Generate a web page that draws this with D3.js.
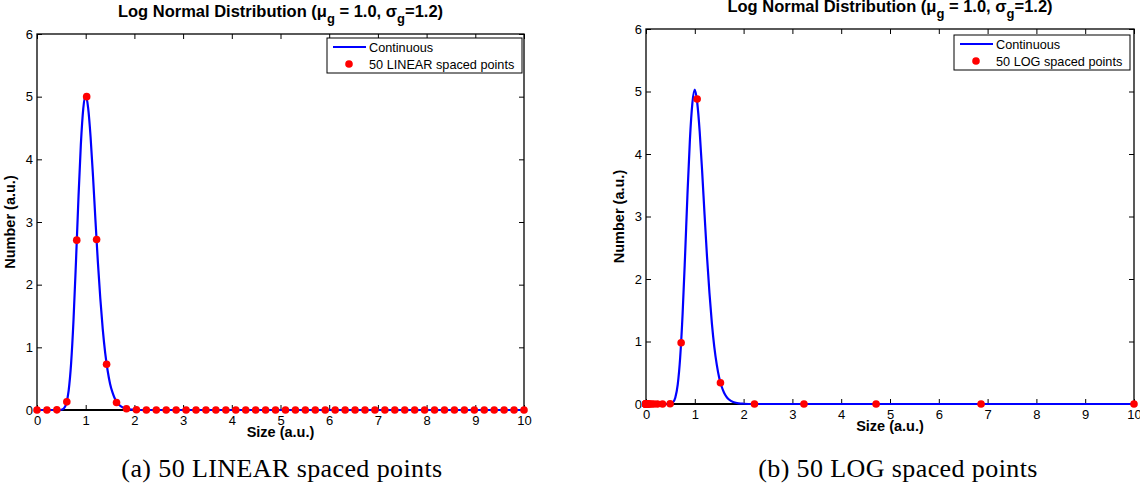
<!DOCTYPE html>
<html>
<head>
<meta charset="utf-8">
<script src="https://cdn.jsdelivr.net/npm/d3@7"></script>
<style>
  html, body { margin: 0; padding: 0; background: #fff; }
  svg { display: block; }
</style>
</head>
<body>
<svg id="chart" width="1140" height="493" font-family="Liberation Sans, Arial, sans-serif"></svg>
<script>
// ---------------- data ----------------
const xTicks = [0, 1, 2, 3, 4, 5, 6, 7, 8, 9, 10];
const yTicks = [0, 1, 2, 3, 4, 5, 6];

// continuous curve
const curveX = [0, 0.3, 0.4, 0.45, 0.5, 0.55, 0.6, 0.65, 0.7, 0.75, 0.8, 0.85, 0.9, 0.95, 1.0,
                1.05, 1.1, 1.15, 1.2, 1.25, 1.3, 1.35, 1.4, 1.45, 1.5, 1.55, 1.6, 1.65, 1.7,
                1.8, 1.9, 2.0, 2.2, 10];
const curveY = [0, 0, 0, 0.0003, 0.004, 0.023, 0.10, 0.31, 0.74, 1.44, 2.36, 3.36, 4.23, 4.81, 5.03,
                4.82, 4.36, 3.73, 3.03, 2.36, 1.78, 1.29, 0.91, 0.63, 0.42, 0.28, 0.18, 0.115, 0.072,
                0.028, 0.010, 0.004, 0, 0];

// 50 linearly spaced points
const linX = [0, 0.204, 0.408, 0.612, 0.816, 1.020, 1.224, 1.429, 1.633, 1.837,
              2.041, 2.245, 2.449, 2.653, 2.857, 3.061, 3.265, 3.469, 3.673, 3.878,
              4.082, 4.286, 4.490, 4.694, 4.898, 5.102, 5.306, 5.510, 5.714, 5.918,
              6.122, 6.327, 6.531, 6.735, 6.939, 7.143, 7.347, 7.551, 7.755, 7.959,
              8.163, 8.367, 8.571, 8.776, 8.980, 9.184, 9.388, 9.592, 9.796, 10];
const linY = [0, 0, 0.002, 0.13, 2.71, 5.00, 2.72, 0.73, 0.12, 0.02,
              0.003, 0, 0, 0, 0, 0, 0, 0, 0, 0,
              0, 0, 0, 0, 0, 0, 0, 0, 0, 0,
              0, 0, 0, 0, 0, 0, 0, 0, 0, 0,
              0, 0, 0, 0, 0, 0, 0, 0, 0, 0];

// 50 log spaced points
const logX = [1e-7, 1.46e-7, 2.12e-7, 3.09e-7, 4.50e-7, 6.55e-7, 9.54e-7, 1.39e-6, 2.02e-6, 2.95e-6,
              4.29e-6, 6.25e-6, 9.10e-6, 1.33e-5, 1.93e-5, 2.81e-5, 4.09e-5, 5.96e-5, 8.69e-5, 1.26e-4,
              1.84e-4, 2.68e-4, 3.91e-4, 5.69e-4, 8.29e-4, 1.21e-3, 1.76e-3, 2.56e-3, 3.73e-3, 5.43e-3,
              7.91e-3, 0.0115, 0.0168, 0.0244, 0.0356, 0.0518, 0.0754, 0.1099, 0.160, 0.233,
              0.339, 0.494, 0.720, 1.048, 1.526, 2.223, 3.237, 4.715, 6.866, 10];
const logY = [0, 0, 0, 0, 0, 0, 0, 0, 0, 0,
              0, 0, 0, 0, 0, 0, 0, 0, 0, 0,
              0, 0, 0, 0, 0, 0, 0, 0, 0, 0,
              0, 0, 0, 0, 0, 0, 0, 0, 0, 0,
              0, 0.004, 0.98, 4.88, 0.34, 0.0004, 0, 0, 0, 0];

const legendLabels = ["Continuous", "50 LINEAR spaced points", "50 LOG spaced points"];
const captions = ["(a) 50 LINEAR spaced points", "(b) 50 LOG spaced points"];

// ---------------- drawing ----------------
const svg = d3.select("#chart");
const SANS = "Liberation Sans, Arial, sans-serif";
const SERIF = "Liberation Serif, DejaVu Serif, serif";

function drawPanel(cfg) {
  const g = svg.append("g");
  const x = d3.scaleLinear().domain([0, 10]).range([cfg.left, cfg.right]);
  const y = d3.scaleLinear().domain([0, 6]).range([cfg.bottom, cfg.top]);
  const tickLen = 5;
  const styleText = sel => sel.selectAll("text")
    .style("font-family", SANS).style("font-size", "13px").attr("fill", "#000");

  // inward ticks on all four sides
  g.append("g").attr("transform", `translate(0,${cfg.bottom})`)
    .call(d3.axisBottom(x).tickValues(xTicks).tickSize(-tickLen).tickPadding(6).tickFormat(d3.format("d")))
    .call(a => a.select(".domain").remove())
    .call(a => a.selectAll("line").attr("stroke", "#000"))
    .call(styleText);
  g.append("g").attr("transform", `translate(0,${cfg.top})`)
    .call(d3.axisTop(x).tickValues(xTicks).tickSize(-tickLen).tickFormat(""))
    .call(a => a.select(".domain").remove())
    .call(a => a.selectAll("line").attr("stroke", "#000"));
  g.append("g").attr("transform", `translate(${cfg.left},0)`)
    .call(d3.axisLeft(y).tickValues(yTicks).tickSize(-tickLen).tickPadding(4).tickFormat(d3.format("d")))
    .call(a => a.select(".domain").remove())
    .call(a => a.selectAll("line").attr("stroke", "#000"))
    .call(styleText);
  g.append("g").attr("transform", `translate(${cfg.right},0)`)
    .call(d3.axisRight(y).tickValues(yTicks).tickSize(-tickLen).tickFormat(""))
    .call(a => a.select(".domain").remove())
    .call(a => a.selectAll("line").attr("stroke", "#000"));

  // frame
  g.append("rect")
    .attr("x", cfg.left).attr("y", cfg.top)
    .attr("width", cfg.right - cfg.left).attr("height", cfg.bottom - cfg.top)
    .attr("fill", "none").attr("stroke", "#000").attr("stroke-width", 1.3);
  g.append("line")
    .attr("x1", cfg.left).attr("x2", cfg.right)
    .attr("y1", y(0)).attr("y2", y(0))
    .attr("stroke", "#000").attr("stroke-width", 2);

  // continuous curve
  const pts = curveX.map((v, i) => [v, curveY[i]]);
  g.append("path")
    .datum(pts)
    .attr("fill", "none").attr("stroke", "#0000ff").attr("stroke-width", 2.2)
    .attr("stroke-linejoin", "round")
    .attr("d", d3.line().x(d => x(d[0])).y(d => y(d[1])).curve(d3.curveMonotoneX));

  // sampled points
  const dots = cfg.px.map((v, i) => [v, cfg.py[i]]);
  g.append("g").selectAll("circle").data(dots).join("circle")
    .attr("cx", d => x(d[0])).attr("cy", d => y(d[1]))
    .attr("r", 3.8).attr("fill", "#ff0000");

  // title with subscripts
  const cx = (cfg.left + cfg.right) / 2;
  const t = g.append("text").attr("x", cx).attr("y", cfg.titleY)
    .attr("text-anchor", "middle").style("font-size", "16.5px").attr("font-weight", "bold");
  t.append("tspan").text("Log Normal Distribution (\u03bc");
  t.append("tspan").attr("dy", 6).style("font-size", "13px").text("g");
  t.append("tspan").attr("dy", -6).text(" = 1.0, \u03c3");
  t.append("tspan").attr("dy", 6).style("font-size", "13px").text("g");
  t.append("tspan").attr("dy", -6).text("=1.2)");

  // axis labels
  g.append("text").attr("x", cx).attr("y", cfg.bottom + 27)
    .attr("text-anchor", "middle").style("font-size", "14.5px").attr("font-weight", "bold")
    .text("Size (a.u.)");
  g.append("text")
    .attr("transform", `translate(${cfg.left - 22},${(cfg.top + cfg.bottom) / 2}) rotate(-90)`)
    .attr("text-anchor", "middle").style("font-size", "14.5px").attr("font-weight", "bold")
    .text("Number (a.u.)");

  // legend
  const L = cfg.legend;
  const lg = g.append("g");
  lg.append("rect").attr("x", L.x).attr("y", L.y).attr("width", L.w).attr("height", L.h)
    .attr("fill", "#fff").attr("stroke", "#000").attr("stroke-width", 1);
  lg.append("line").attr("x1", L.x + 6).attr("x2", L.x + 39)
    .attr("y1", L.y + 9).attr("y2", L.y + 9)
    .attr("stroke", "#0000ff").attr("stroke-width", 2);
  lg.append("text").attr("x", L.x + 42).attr("y", L.y + 13.5).style("font-size", "12.7px").text(legendLabels[0]);
  lg.append("circle").attr("cx", L.x + 22).attr("cy", L.y + 26).attr("r", 3.8).attr("fill", "#ff0000");
  lg.append("text").attr("x", L.x + 42).attr("y", L.y + 30.5).style("font-size", "12.7px").text(cfg.legendText);

  // caption
  svg.append("text").attr("x", cfg.capX).attr("y", 477)
    .attr("text-anchor", "middle")
    .style("font-family", SERIF)
    .style("font-size", "26px")
    .style("letter-spacing", "0.4px")
    .text(cfg.caption);
}

drawPanel({
  left: 37, right: 524, top: 34, bottom: 410, titleY: 17,
  px: linX, py: linY,
  legend: { x: 327, y: 38, w: 195, h: 35 },
  legendText: legendLabels[1],
  caption: captions[0], capX: 282
});

drawPanel({
  left: 646, right: 1134, top: 29, bottom: 404, titleY: 12,
  px: logX, py: logY,
  legend: { x: 954, y: 35, w: 176, h: 35 },
  legendText: legendLabels[2],
  caption: captions[1], capX: 898
});
</script>
</body>
</html>
